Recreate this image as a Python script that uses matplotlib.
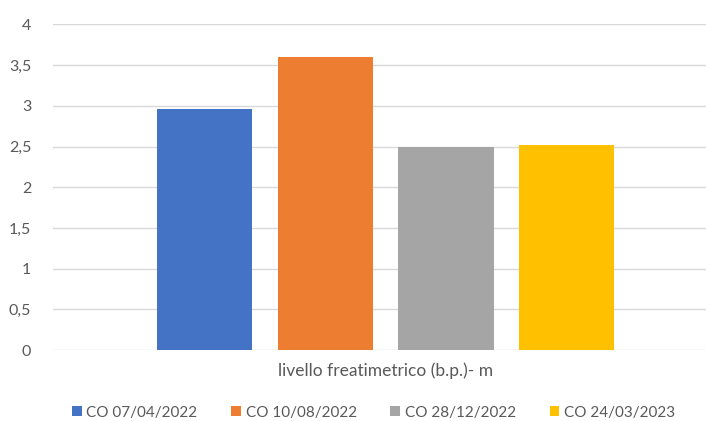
import matplotlib.pyplot as plt
from matplotlib.patches import Patch

category = 'livello freatimetrico (b.p.)- m'
series = ['CO 07/04/2022', 'CO 10/08/2022', 'CO 28/12/2022', 'CO 24/03/2023']
values = [2.96, 3.6, 2.5, 2.52]
colors = ['#4472C4', '#ED7D31', '#A5A5A5', '#FFC000']
yticks = [0, 0.5, 1, 1.5, 2, 2.5, 3, 3.5, 4]
ytick_labels = ['0', '0,5', '1', '1,5', '2', '2,5', '3', '3,5', '4']

plt.rcParams['font.family'] = ['Lato', 'DejaVu Sans']

fig = plt.figure(figsize=(7.06, 4.21), dpi=100)
# plot area runs a little past the right edge, like the cropped sheet
ax = fig.add_axes([0.0755, 0.1686, 0.9415, 0.7734])

pos = list(range(len(values)))
ax.bar(pos, values, width=0.79, color=colors, zorder=3, linewidth=0)

ax.set_xlim(-1.258, 4.258)
ax.set_ylim(0, 4)
ax.set_yticks(yticks)
ax.set_yticklabels(ytick_labels)
ax.set_xticks([1.5])
ax.set_xticklabels([category])

ax.grid(axis='y', color='#D9D9D9', linewidth=1.0, zorder=0)
for s in ax.spines.values():
    s.set_visible(False)
ax.tick_params(axis='y', length=0, pad=16, labelsize=11.5, labelcolor='#595959')
ax.tick_params(axis='x', length=0, pad=9, labelsize=12.5, labelcolor='#595959')

handles = [Patch(facecolor=c, edgecolor='none') for c in colors]
fig.legend(handles, series, loc='center', bbox_to_anchor=(0.529, 0.02),
           ncol=4, frameon=False, fontsize=11, handlelength=0.65,
           handleheight=0.65, handletextpad=0.3, columnspacing=2.2,
           labelcolor='#595959')

fig.savefig('out.png', dpi=100)
